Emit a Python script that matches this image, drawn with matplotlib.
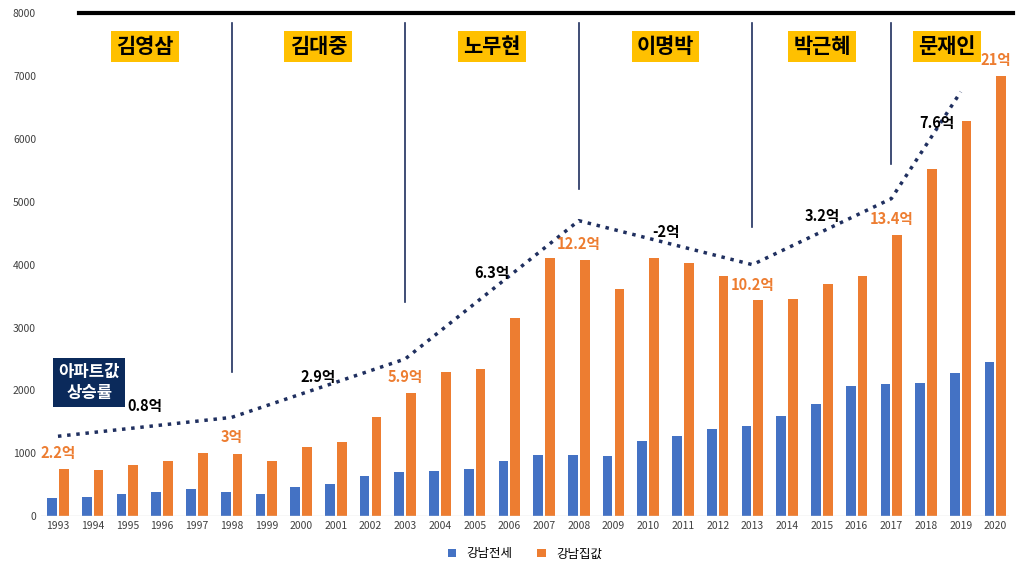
import matplotlib
matplotlib.use("Agg")
import matplotlib.pyplot as plt
import numpy as np

plt.rcParams['font.family'] = ['Noto Sans CJK KR', 'DejaVu Sans']

years = list(range(1993, 2021))
jeonse = [290,300,350,380,430,380,350,460,510,640,700,715,750,870,970,970,955,1190,1270,1380,1430,1600,1780,2070,2100,2110,2270,2450]
price = [750,730,810,870,1000,990,870,1100,1180,1570,1960,2290,2340,3150,4100,4070,3610,4110,4020,3820,3430,3450,3690,3820,4480,5530,6290,7000]
trend_years = [1993,1998,2003,2008,2013,2017,2019]
trend_vals = [1270,1570,2500,4700,4000,5050,6750]
presidents = ["김영삼","김대중","노무현","이명박","박근혜","문재인"]
pres_x = [1995.5,2000.5,2005.5,2010.5,2015,2018.6]
divider_years = [1998,2003,2008,2013,2017]
divider_bottom = [2300,3400,5200,4600,5600]
price_labels = [(1993,"2.2억",880),(1998,"3억",1130),(2003,"5.9억",2080),(2008,"12.2억",4200),(2013,"10.2억",3550),(2017,"13.4억",4600),(2020,"21억",7130)]
growth_labels = [(1995.5,"0.8억",1630),(2000.5,"2.9억",2080),(2005.5,"6.3억",3740),(2010.5,"-2억",4400),(2015,"3.2억",4650),(2018.3,"7.6억",6130)]

blue = "#4472C4"; orange = "#ED7D31"
fig = plt.figure(figsize=(10.24,5.76), dpi=100)
ax = fig.add_axes([0.04,0.104,0.945,0.873])
x = np.array(years)
w = 0.28
ax.bar(x-0.17, jeonse, w, color=blue, label="강남전세")
ax.bar(x+0.17, price, w, color=orange, label="강남집값")
ax.plot(trend_years, trend_vals, ':', color="#1F2F5F", lw=2.5)
for yr, b in zip(divider_years, divider_bottom):
    ax.plot([yr, yr], [b, 7850], color="#1F2F5F", lw=1.2)
ax.plot([1993.6, 2020.5], [8000, 8000], color="black", lw=3, clip_on=False)
for name, px in zip(presidents, pres_x):
    ax.text(px, 7470, name, ha="center", va="center", fontsize=15, fontweight="bold",
            bbox=dict(boxstyle="square,pad=0.25", fc="#FFC000", ec="none"))
for yr, t, v in price_labels:
    ax.text(yr, v, t, ha="center", va="bottom", fontsize=10.5, fontweight="bold", color=orange)
for xx, t, v in growth_labels:
    ax.text(xx, v, t, ha="center", va="bottom", fontsize=10.5, fontweight="bold", color="black")
ax.text(1993.9, 2130, "아파트값\n상승률", ha="center", va="center", fontsize=12, fontweight="bold",
        color="white", linespacing=1.2, bbox=dict(boxstyle="square,pad=0.3", fc="#0B2A5B", ec="none"))
ax.set_ylim(0, 8000)
ax.set_xlim(1992.51, 2020.38)
ax.set_xticks(years)
ax.set_yticks(range(0, 8001, 1000))
ax.tick_params(labelsize=7.5, length=0, colors="#404040")
for s in ax.spines.values():
    s.set_visible(False)
ax.axhline(0, color="#D9D9D9", lw=1)
ax.legend(loc="upper center", bbox_to_anchor=(0.5, -0.04), ncol=2, frameon=False, fontsize=9, handlelength=0.7)
fig.savefig("out.png", dpi=100)
